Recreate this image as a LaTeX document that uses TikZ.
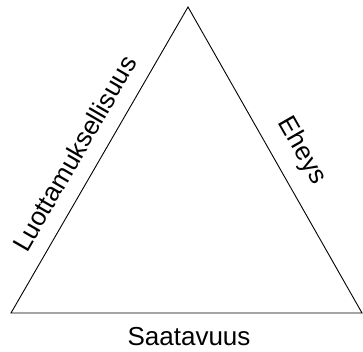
\documentclass[tikz,border=0pt]{standalone}
\usepackage{fontspec}
\setmainfont{Liberation Sans}
\begin{document}
\begin{tikzpicture}[x=1pt,y=-1pt,
  edge/.style={draw=black,line width=0.9pt,line join=miter},
  lbl/.style={font=\fontsize{26}{31}\selectfont,inner sep=0pt,text=black}]
\useasboundingbox (0,0) rectangle (363,352);
\coordinate (A) at (11,313);
\coordinate (T) at (188,7);
\coordinate (B) at (362,313);
\draw[edge] (A) -- node[lbl,sloped,pos=0.48,above=15pt] (conf) {Luottamuksellisuus}
  (T) -- node[lbl,sloped,pos=0.515,above=15pt] (integ) {Eheys}
  (B) -- cycle;
\node[lbl,anchor=base] (avail) at (189,345) {Saatavuus};
\end{tikzpicture}
\end{document}
